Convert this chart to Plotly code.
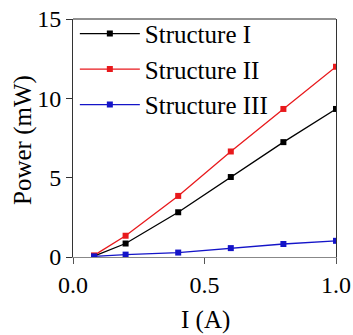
import plotly.graph_objects as go

current = [0.08, 0.2, 0.4, 0.6, 0.8, 1.0]
power_I = [0.05, 0.85, 2.82, 5.04, 7.24, 9.33]
power_II = [0.1, 1.34, 3.85, 6.65, 9.33, 11.99]
power_III = [0.04, 0.15, 0.28, 0.56, 0.82, 1.02]
names = ["Structure I", "Structure II", "Structure III"]
colors = ["#000000", "#e8191c", "#1414c8"]
x_title = "I (A)"
y_title = "Power (mW)"

FONT = "Liberation Serif, Times New Roman, serif"

fig = go.Figure()
for name, ys, c in zip(names, [power_I, power_II, power_III], colors):
    fig.add_trace(go.Scatter(
        x=current, y=ys, name=name, mode="lines+markers",
        line=dict(color=c, width=1.3),
        marker=dict(symbol="square", size=6, color=c),
    ))

fig.update_layout(
    width=353, height=335,
    margin=dict(l=73, r=17, t=18, b=78),
    paper_bgcolor="white", plot_bgcolor="white",
    font=dict(family=FONT, size=24, color="black"),
    showlegend=True,
    legend=dict(x=0.007, y=1.03, xanchor="left", yanchor="top",
                bgcolor="rgba(0,0,0,0)", font=dict(size=25, family=FONT),
                itemwidth=60, tracegroupgap=0),
    shapes=[dict(type="line", xref="paper", yref="paper", x0=0, x1=1, y0=1, y1=1,
                 line=dict(color="#222", width=1))],
    annotations=[
        dict(text=x_title, xref="paper", yref="paper", x=0.505, y=-0.264,
             xanchor="center", yanchor="middle", showarrow=False,
             font=dict(size=25, family=FONT)),
        dict(text=y_title, xref="paper", yref="paper", x=-0.188, y=0.49,
             xanchor="center", yanchor="middle", showarrow=False, textangle=-90,
             font=dict(size=25, family=FONT)),
    ],
)
fig.update_xaxes(
    range=[0, 1], dtick=0.5, tick0=0, tickformat=".1f",
    showline=True, linecolor="#888", linewidth=1, mirror=False,
    ticks="outside", ticklen=6, tickcolor="#555",
    showgrid=False, zeroline=False, automargin=False,
    tickfont=dict(size=24, family=FONT),
)
fig.update_yaxes(
    range=[0, 15], dtick=5, tick0=0,
    showline=True, linecolor="#333", linewidth=1, mirror=True,
    ticks="outside", ticklen=6, tickcolor="#333",
    showgrid=False, zeroline=False, automargin=False,
    tickfont=dict(size=24, family=FONT),
)

fig.write_html("out.html", config={"displayModeBar": False},
               post_script="document.body.style.margin='0';")
